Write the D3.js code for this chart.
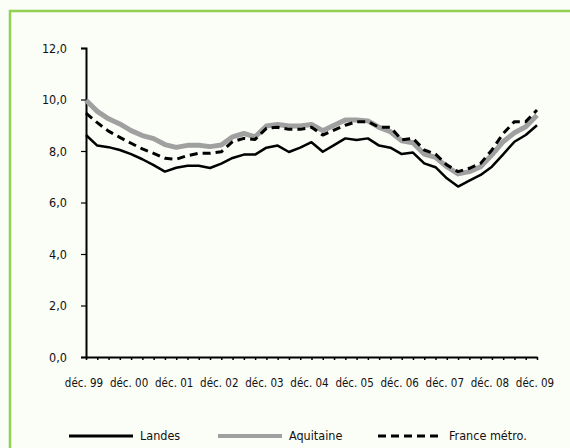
<!DOCTYPE html>
<html>
<head>
<meta charset="utf-8">
<script src="https://cdn.jsdelivr.net/npm/d3@7"></script>
<style>
  body { margin: 0; background: #fbfdf7; }
  svg text { font-family: "Liberation Sans Narrow", "DejaVu Sans Condensed", "Liberation Sans", sans-serif; fill: #111; }
</style>
</head>
<body>
<div class="chart"></div>
<script>
// quarterly values, déc. 99 -> déc. 09
const yearLabels = ["déc. 99", "déc. 00", "déc. 01", "déc. 02", "déc. 03", "déc. 04",
  "déc. 05", "déc. 06", "déc. 07", "déc. 08", "déc. 09"];

const landes = [8.62, 8.21, 8.15, 8.04, 7.88, 7.68, 7.45, 7.2, 7.35, 7.43, 7.43, 7.34,
  7.51, 7.73, 7.86, 7.86, 8.13, 8.21, 7.96, 8.13, 8.34, 7.97, 8.23, 8.49, 8.43, 8.49,
  8.21, 8.13, 7.88, 7.94, 7.52, 7.37, 6.94, 6.62, 6.85, 7.07, 7.39, 7.87, 8.36, 8.62, 9.0];

const aquitaine = [9.97, 9.54, 9.25, 9.05, 8.79, 8.6, 8.48, 8.25, 8.14, 8.22, 8.22, 8.17,
  8.23, 8.55, 8.68, 8.55, 8.97, 9.03, 8.97, 8.97, 9.03, 8.79, 9.0, 9.2, 9.2, 9.17,
  8.92, 8.75, 8.4, 8.32, 7.88, 7.75, 7.39, 7.11, 7.2, 7.39, 7.85, 8.36, 8.71, 8.94, 9.39];

const france = [9.47, 9.1, 8.77, 8.53, 8.3, 8.08, 7.91, 7.72, 7.68, 7.82, 7.91, 7.91,
  7.97, 8.36, 8.49, 8.45, 8.88, 8.92, 8.84, 8.84, 8.92, 8.62, 8.81, 9.0, 9.14, 9.14,
  8.92, 8.92, 8.43, 8.49, 8.04, 7.88, 7.46, 7.2, 7.33, 7.52, 8.04, 8.68, 9.14, 9.14, 9.59];

const yTicks = [0, 2, 4, 6, 8, 10, 12];

const W = 570, H = 448;
const margin = { top: 48, left: 86, right: 33, bottom: 91 };
const width = W - margin.left - margin.right;
const height = H - margin.top - margin.bottom;

const svg = d3.select('.chart')
  .append('svg')
  .attr('width', W)
  .attr('height', H);

// green frame (runs off the right and bottom edges)
svg.append('rect')
  .attr('x', 10).attr('y', 11)
  .attr('width', 600).attr('height', 500)
  .attr('fill', '#fbfdf7')
  .attr('stroke', '#92d050')
  .attr('stroke-width', 2.5);

const g = svg.append('g')
  .attr('transform', 'translate(' + margin.left + ',' + margin.top + ')');

const x = d3.scaleLinear()
  .domain([0, landes.length - 1])
  .range([0, width]);

const y = d3.scaleLinear()
  .domain([0, 12])
  .range([height, 0]);

// y axis
const yaxis = d3.axisLeft(y)
  .tickValues(yTicks)
  .tickSize(5)
  .tickPadding(14)
  .tickFormat(d => d3.format('.1f')(d).replace('.', ','));

const yg = g.append('g').call(yaxis);
yg.select('.domain').attr('stroke', '#000').attr('stroke-width', 2);
yg.selectAll('.tick line').attr('stroke', '#000').attr('stroke-width', 1.2);
yg.selectAll('.tick text').style('font-size', '12.5px');

// x axis: a tick every quarter, labels every year
const xaxis = d3.axisBottom(x)
  .tickValues(d3.range(0, landes.length))
  .tickSize(3)
  .tickSizeOuter(0)
  .tickFormat('');

const xg = g.append('g')
  .attr('transform', 'translate(0,' + height + ')')
  .call(xaxis);
xg.select('.domain').attr('stroke', '#000').attr('stroke-width', 2);
xg.selectAll('.tick line').attr('stroke', '#000').attr('stroke-width', 1.5);

g.selectAll('.xlab')
  .data(yearLabels)
  .enter()
  .append('text')
  .attr('class', 'xlab')
  .attr('x', (d, i) => x(i * 4) - 2)
  .attr('y', height + 30)
  .attr('text-anchor', 'middle')
  .style('font-size', '11.5px')
  .text(d => d);

// lines
const line = d3.line()
  .x((d, i) => x(i))
  .y(d => y(d));

const series = [
  { name: 'Landes', values: landes, color: '#000', w: 2.5, dash: null },
  { name: 'Aquitaine', values: aquitaine, color: '#a0a0a0', w: 5, dash: null },
  { name: 'France métro.', values: france, color: '#000', w: 3, dash: '8,5' }
];

// draw grey first, then dashed, then Landes on top
[1, 2, 0].forEach(k => {
  const s = series[k];
  g.append('path')
    .datum(s.values)
    .attr('fill', 'none')
    .attr('stroke', s.color)
    .attr('stroke-width', s.w)
    .attr('stroke-linejoin', 'round')
    .attr('stroke-dasharray', s.dash)
    .attr('d', line);
});

// legend
const legendX = [69, 218, 378];
const legend = svg.selectAll('.legend')
  .data(series)
  .enter()
  .append('g')
  .attr('class', 'legend')
  .attr('transform', (d, i) => 'translate(' + legendX[i] + ',436)');

legend.append('line')
  .attr('x1', 0).attr('x2', 64)
  .attr('stroke', d => d.color)
  .attr('stroke-width', d => d.name === 'Aquitaine' ? 4 : 3)
  .attr('stroke-dasharray', d => d.dash);

legend.append('text')
  .attr('x', 71)
  .attr('dy', '0.35em')
  .style('font-size', '12.5px')
  .text(d => d.name);
</script>
</body>
</html>
